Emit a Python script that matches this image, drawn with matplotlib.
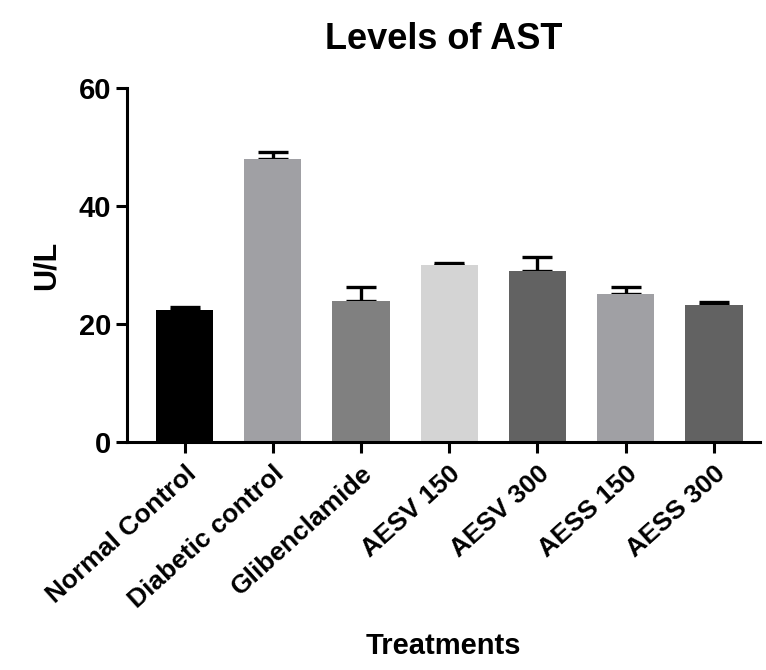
import numpy as np
import matplotlib.pyplot as plt

# group names and measured AST levels (U/L), upward SEM only
treatments = ['Normal Control', 'Diabetic control', 'Glibenclamide',
              'AESV 150', 'AESV 300', 'AESS 150', 'AESS 300']
ast_mean = [22.4, 47.9, 23.9, 30.0, 28.9, 25.1, 23.2]
ast_err = [0.45, 1.2, 2.3, 0.3, 2.4, 1.2, 0.5]
bar_colors = ['#000000', '#a0a0a4', '#808080', '#d4d4d4',
              '#626262', '#a0a0a4', '#626262']

plt.rcParams['font.family'] = ['Liberation Sans', 'DejaVu Sans']
plt.rcParams['font.weight'] = 'bold'

fig = plt.figure(figsize=(7.66, 6.7), dpi=100)
ax = fig.add_axes([0.166, 0.340, 0.826, 0.529])

x = np.arange(len(treatments))
ax.bar(x, ast_mean, width=0.65, color=bar_colors, zorder=2)
ax.errorbar(x, ast_mean, yerr=[np.zeros(len(ast_err)), ast_err],
            fmt='none', ecolor='black', elinewidth=2.4, capsize=11,
            capthick=2.4, zorder=1)

ax.set_xlim(-0.65, 6.52)
ax.set_ylim(0, 60)
ax.set_yticks([0, 20, 40, 60])
ax.set_xticks(x)
ax.set_xticklabels(treatments, rotation=42, ha='right',
                   rotation_mode='anchor', fontsize=19, fontweight='bold')
ax.tick_params(axis='y', labelsize=21, width=2.2, length=8)
ax.tick_params(axis='x', width=2.2, length=8, pad=6)

for s in ['top', 'right']:
    ax.spines[s].set_visible(False)
for s in ['left', 'bottom']:
    ax.spines[s].set_linewidth(2.2)

ax.set_ylabel('U/L', fontsize=22, fontweight='bold', labelpad=12)
ax.set_xlabel('Treatments', fontsize=21, fontweight='bold', labelpad=14)
ax.set_title('Levels of AST', fontsize=26, fontweight='bold', pad=28)

plt.savefig('out.png', dpi=100)
